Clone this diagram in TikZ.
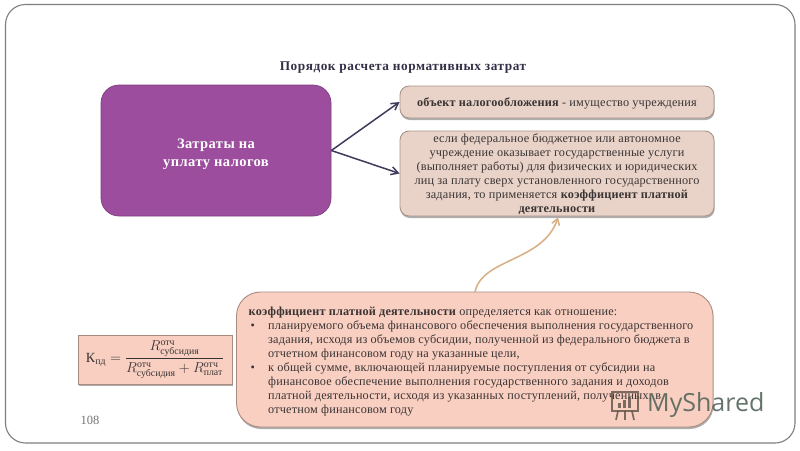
\documentclass[tikz,border=0pt]{standalone}
\usepackage{amsmath}
\usepackage{fontspec}
\setmainfont{Liberation Serif}
\newfontfamily\wmfont{Open Sans}
\usetikzlibrary{shadows,arrows.meta}
\definecolor{ink}{HTML}{3A3433}
\definecolor{purp}{HTML}{9C4D9E}
\definecolor{beige}{HTML}{E9D3C9}
\definecolor{beigeline}{HTML}{A89488}
\definecolor{pinkbox}{HTML}{F9CFC2}
\definecolor{pinkline}{HTML}{A98B80}
\definecolor{arrowdark}{HTML}{403B5C}
\definecolor{arroworange}{HTML}{D9AE82}
\definecolor{framegray}{HTML}{7F7F7F}
\definecolor{wmgray}{HTML}{55655A}
\definecolor{wmicon}{HTML}{5E5145}
\tikzset{
 x=1pt,y=-1pt,
 softshadow/.style={drop shadow={shadow xshift=0.6pt,shadow yshift=-2pt,opacity=0.45,fill=black!70}},
 beigebox/.style={draw=beigeline,line width=0.9pt,fill=beige,rounded corners=9pt,softshadow,inner sep=0pt,minimum width=314pt},
 pinkrect/.style={draw=pinkline,line width=0.9pt,fill=pinkbox,softshadow,inner sep=0pt},
 bodytext/.style={text=ink,inner sep=0pt,font=\fontsize{12.25}{14}\selectfont},
 darrow/.style={draw=arrowdark,line width=1.5pt,-{Straight Barb[length=7pt,width=8pt]}},
 oarrow/.style={draw=arroworange,line width=1.5pt,-{Straight Barb[length=6pt,width=8pt]}}
}
\newcommand{\sbs}[2]{R^{\text{#1}}_{\text{#2}}}
\newcommand{\lsp}{\addfontfeature{LetterSpace=1.5}}
\begin{document}
\begin{tikzpicture}
\useasboundingbox (0,0) rectangle (800,450);
\fill[white] (0,0) rectangle (800,450);
\draw[framegray,line width=1.1pt,rounded corners=20pt] (5.5,4.5) rectangle (795,443);
\node[anchor=center,font=\fontsize{13.3}{14}\bfseries\selectfont,text=ink!90!blue,inner sep=0pt] (title) at (403,68) {\addfontfeature{LetterSpace=4}Порядок расчета нормативных затрат};
\node[draw=purp!80!black,line width=0.7pt,fill=purp,rounded corners=18pt,minimum width=230pt,minimum height=131pt,inner sep=0pt,text=white,align=center,font=\fontsize{14.5}{18}\bfseries\selectfont] (main) at (216,150.5) {\rule{0pt}{17pt}\addfontfeature{LetterSpace=3}Затраты на\\\addfontfeature{LetterSpace=3}уплату налогов};
\node[beigebox,minimum height=32pt,bodytext] (obj) at (557,102) {\rule{0pt}{12pt}\lsp\textbf{объект налогообложения} - имущество учреждения};
\node[beigebox,minimum height=85pt,bodytext,align=center] (cond) at (557,173.5) {\rule{0pt}{11pt}\lsp если федеральное бюджетное или автономное\\\lsp учреждение оказывает государственные услуги\\\lsp (выполняет работы) для физических и юридических\\\lsp лиц за плату сверх установленного государственного\\\lsp задания, то применяется \textbf{коэффициент платной}\\\lsp\textbf{деятельности}};
\node[pinkrect,rounded corners=24pt,minimum width=476.5pt,minimum height=135pt] (def) at (474.75,359.5) {};
\node[bodytext,anchor=north west,align=left] (deftext) at (248.5,307) {%
\lsp\textbf{коэффициент платной деятельности} определяется как отношение:\\
\makebox[19.5pt][l]{\hspace{2pt}•}\lsp планируемого объема финансового обеспечения выполнения государственного\\
\hspace*{19.5pt}\lsp задания, исходя из объемов субсидии, полученной из федерального бюджета в\\
\hspace*{19.5pt}\lsp отчетном финансовом году на указанные цели,\\
\makebox[19.5pt][l]{\hspace{2pt}•}\lsp к общей сумме, включающей планируемые поступления от субсидии на\\
\hspace*{19.5pt}\lsp финансовое обеспечение выполнения государственного задания и доходов\\
\hspace*{19.5pt}\lsp платной деятельности, исходя из указанных поступлений, полученных, в\\
\hspace*{19.5pt}\lsp отчетном финансовом году};
\node[pinkrect,minimum width=154pt,minimum height=49pt,text=ink,font=\fontsize{14}{14}\selectfont] (formula) at (155,359.5) {%
$\text{К}_{\text{пд}}=\dfrac{\sbs{отч}{субсидия}}{\sbs{отч}{субсидия}+\sbs{отч}{плат}}$};
\node[text=black!55,font=\fontsize{12.5}{14}\selectfont,inner sep=0pt] (pagenum) at (90,420.5) {108};
\coordinate (fork) at (main.east);
\draw[darrow] (fork) -- (obj.west);
\draw[darrow] (fork) -- (cond.west);
\coordinate (ostart) at (475,292);
\coordinate (oend) at (558,217.5);
\draw[oarrow] (ostart) .. controls (482,258) and (543,262) .. (oend);
% watermark
\node[anchor=west,inner sep=0pt,text=wmgray,opacity=0.9,font=\wmfont\fontsize{25}{28}\selectfont] (wm) at (647,405) {MyShared};
\begin{scope}[draw=wmicon,line width=1.7pt,opacity=0.8]
\draw (612,392) rectangle (638,411);
\draw (618,411) -- (616,420);
\draw (632,411) -- (634,420);
\draw (625,411) -- (625,420);
\fill[wmicon] (618,403) rectangle (621,408);
\fill[wmicon] (623,400) rectangle (626,408);
\fill[wmicon] (628,397) rectangle (631,408);
\end{scope}
\end{tikzpicture}
\end{document}
